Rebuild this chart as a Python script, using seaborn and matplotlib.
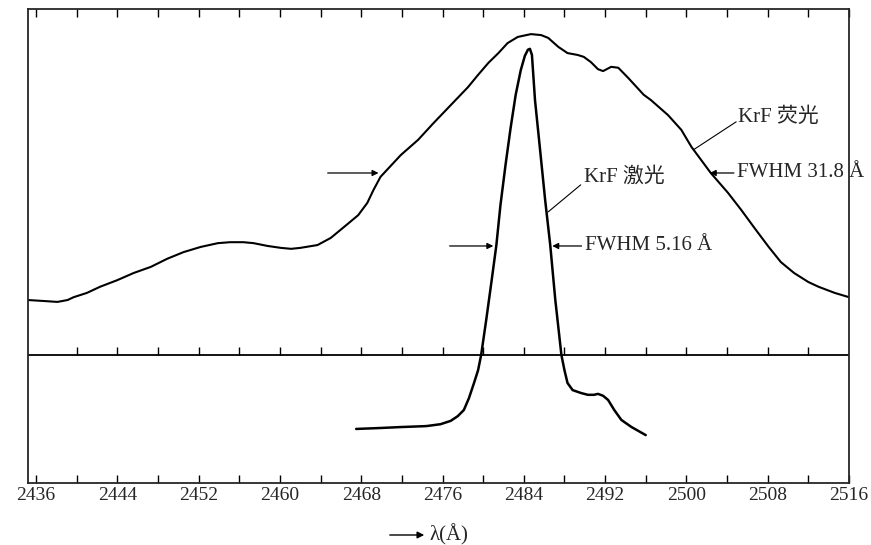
import numpy as np
import pandas as pd
import matplotlib
matplotlib.use("Agg")
import matplotlib.pyplot as plt
import seaborn as sns

# ── Data (wavelength in Å, relative intensity 0-100) ──
fluor_wl = [2435.2, 2436.7, 2438.1, 2439.1, 2439.7, 2441.0, 2442.3, 2444.0,
            2445.6, 2447.3, 2448.9, 2450.5, 2452.2, 2453.9, 2455.1, 2456.4,
            2457.4, 2458.8, 2460.1, 2461.1, 2462.0, 2463.7, 2465.0, 2466.3,
            2467.7, 2468.6, 2469.2, 2469.9, 2470.9, 2471.9, 2473.6, 2475.1,
            2476.8, 2478.5, 2479.5, 2480.5, 2481.5, 2482.4, 2483.4, 2484.7,
            2485.7, 2486.4, 2487.4, 2488.3, 2489.3, 2489.9, 2490.6, 2491.3,
            2491.8, 2492.6, 2493.3, 2494.3, 2494.9, 2495.8, 2496.5, 2498.2,
            2499.5, 2500.5, 2502.4, 2504.1, 2505.4, 2506.7, 2508.1, 2509.3,
            2510.6, 2512.0, 2513.0, 2514.6, 2516.0]
fluor_int = [38.6, 38.4, 38.2, 38.6, 39.2, 40.1, 41.4, 42.8,
             44.3, 45.6, 47.3, 48.7, 49.8, 50.6, 50.8, 50.8,
             50.6, 50.0, 49.6, 49.4, 49.6, 50.2, 51.7, 54.0,
             56.5, 59.1, 61.8, 64.6, 66.9, 69.2, 72.4, 75.9,
             79.7, 83.5, 86.1, 88.6, 90.7, 92.8, 94.1, 94.7,
             94.5, 93.9, 92.0, 90.7, 90.3, 89.9, 88.8, 87.3,
             86.9, 87.8, 87.6, 85.4, 84.0, 81.9, 80.8, 77.6,
             74.5, 70.9, 65.4, 61.2, 57.6, 53.8, 49.8, 46.6,
             44.3, 42.4, 41.4, 40.1, 39.2]

laser_wl = [2467.5, 2469.9, 2471.9, 2474.4, 2475.8, 2476.8, 2477.5, 2478.1,
            2478.6, 2479.1, 2479.5, 2479.8, 2480.3, 2480.8, 2481.3, 2481.7,
            2482.2, 2482.7, 2483.2, 2483.7, 2484.1, 2484.4, 2484.6, 2484.8,
            2485.1, 2485.6, 2486.1, 2486.6, 2487.1, 2487.7, 2488.0, 2488.3,
            2488.8, 2489.6, 2490.3, 2490.9, 2491.3, 2491.8, 2492.3, 2492.9,
            2493.6, 2494.6, 2496.0]
laser_int = [11.4, 11.6, 11.8, 12.0, 12.4, 13.1, 14.1, 15.4,
             17.9, 21.1, 23.8, 27.0, 34.4, 42.2, 50.2, 58.6,
             67.1, 74.9, 81.9, 87.1, 90.1, 91.4, 91.6, 90.3,
             80.8, 70.3, 59.7, 50.2, 38.6, 27.0, 23.8, 21.1,
             19.6, 19.0, 18.6, 18.6, 18.8, 18.4, 17.5, 15.4,
             13.3, 11.8, 10.1]

tick_labels = [2436, 2444, 2452, 2460, 2468, 2476, 2484, 2492, 2500, 2508, 2516]
minor_ticks = [2440, 2448, 2456, 2464, 2472, 2480, 2488, 2496, 2504, 2512]
baseline = 27.0   # the inner horizontal reference line

fluor = pd.DataFrame({"wl": fluor_wl, "I": fluor_int})
laser = pd.DataFrame({"wl": laser_wl, "I": laser_int})

# ── Style ──────────────────────────────────────────────────────────────────────
sns.set_style("ticks")
plt.rcParams["font.family"] = ["Liberation Serif", "Noto Sans CJK SC", "DejaVu Sans"]
plt.rcParams["axes.linewidth"] = 1.3

fig = plt.figure(figsize=(8.71, 5.45), dpi=100)
ax = fig.add_axes([0.0321, 0.1138, 0.9426, 0.8697])

sns.lineplot(data=fluor, x="wl", y="I", ax=ax, color="black", lw=1.5,
             sort=False, solid_joinstyle="round", solid_capstyle="round")
sns.lineplot(data=laser, x="wl", y="I", ax=ax, color="black", lw=1.8,
             sort=False, solid_joinstyle="round", solid_capstyle="round")

ax.set_xlim(2435.2, 2516)
ax.set_ylim(0, 100)
ax.set_xlabel("")
ax.set_ylabel("")
ax.set_yticks([])

ax.set_xticks(tick_labels)
ax.set_xticklabels([str(t) for t in tick_labels], fontsize=14)
ax.set_xticks(minor_ticks, minor=True)
ax.tick_params(axis="x", which="both", direction="in", top=True, bottom=True,
               length=6, width=1.0, color="black", pad=3)

# inner reference line with upward ticks
ax.axhline(baseline, color="black", lw=1.3)
ax.vlines(sorted(tick_labels[1:-1] + minor_ticks), baseline, baseline + 1.7,
          color="black", lw=1.0)

# ── Annotations ────────────────────────────────────────────────────────────────
arrow = dict(arrowstyle="-|>", color="black", lw=0.9, mutation_scale=9,
             shrinkA=0, shrinkB=0)
ax.annotate("", xy=(2469.7, 65.4), xytext=(2464.7, 65.4), arrowprops=arrow)
ax.annotate("FWHM 31.8 Å", xy=(2502.3, 65.4), xytext=(2505.0, 65.4),
            fontsize=15, va="center", ha="left", arrowprops=arrow)

ax.annotate("", xy=(2481.0, 50.0), xytext=(2476.7, 50.0), arrowprops=arrow)
ax.annotate("FWHM 5.16 Å", xy=(2486.8, 50.0), xytext=(2490.0, 50.0),
            fontsize=15, va="center", ha="left", arrowprops=arrow)

ax.text(2489.9, 64.6, "KrF 激光", fontsize=15, va="center", ha="left")
ax.plot([2489.6, 2486.4], [62.9, 57.2], color="black", lw=0.8)

ax.text(2505.1, 77.2, "KrF 荧光", fontsize=15, va="center", ha="left")
ax.plot([2504.9, 2500.7], [76.2, 70.3], color="black", lw=0.8)

# axis caption below
fig.patches.append(matplotlib.patches.FancyArrowPatch(
    (387 / 871, 1 - 535 / 545), (427 / 871, 1 - 535 / 545),
    transform=fig.transFigure, arrowstyle="-|>", mutation_scale=10,
    color="black", lw=1.0))
fig.text(429 / 871, 1 - 535 / 545, "λ(Å)", fontsize=15, va="center", ha="left")

fig.savefig("out.png", dpi=100)
